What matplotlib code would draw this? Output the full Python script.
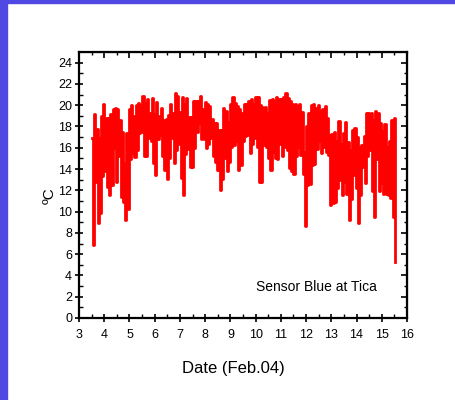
import numpy as np
import matplotlib
matplotlib.use('Agg')
import matplotlib.pyplot as plt
from matplotlib.patches import Rectangle

plt.rcParams['font.family'] = ['Liberation Sans', 'DejaVu Sans']

# sensor record, Feb 3.5 - 15.5 2004: upper and lower swing of each reading pair
t_start, t_end = 3.53, 15.54
hi_c = [16.9, 19.2, 17.8, 16.9, 19.0, 20.1, 18.8, 18.8, 19.2, 19.6, 19.7, 19.6,
        18.6, 17.5, 14.6, 17.4, 19.6, 20.0, 19.0, 20.0, 20.2, 20.0, 20.9, 20.2,
        20.6, 19.3, 20.7, 19.2, 20.3, 19.0, 19.7, 18.6, 18.7, 19.1, 20.1, 19.3,
        21.1, 20.9, 19.4, 20.8, 20.1, 20.7, 18.9, 18.9, 20.4, 20.4, 20.4, 20.9,
        19.6, 20.3, 20.1, 19.9, 18.7, 18.3, 18.3, 17.7, 17.7, 19.7, 19.5, 18.4,
        20.1, 20.8, 20.2, 19.9, 19.6, 19.3, 20.1, 20.1,
        20.4, 20.6, 20.1, 20.8, 20.8, 20.0, 19.8, 19.8, 19.3, 20.5, 20.6, 20.4,
        20.8, 20.6, 20.6, 20.8, 21.1, 20.7, 20.4, 20.1, 20.1, 19.9, 20.1, 19.4,
        15.6, 18.0, 19.3, 20.0, 20.1, 19.7, 20.0, 19.5, 19.6, 19.9, 18.8, 17.2,
        17.3, 17.5, 16.6, 18.5, 16.4, 17.4, 18.4, 16.5, 15.8, 17.7, 17.9, 17.0,
        16.1, 16.3, 17.1, 19.3, 19.3, 19.3, 18.6, 19.5, 19.3, 18.3, 17.6, 18.2,
        16.1, 16.6, 18.6, 18.8]
lo_c = [6.9, 12.8, 8.9, 9.9, 13.3, 13.8, 12.3, 11.6, 12.5, 16.0, 12.8, 15.2,
        11.4, 10.9, 9.2, 10.2, 14.9, 15.5, 15.1, 15.8, 17.4, 17.5, 15.2, 15.2,
        16.9, 16.6, 14.6, 13.4, 16.8, 17.2, 15.2, 13.9, 13.1, 15.0, 16.9, 14.6,
        15.8, 16.4, 13.2, 11.6, 15.4, 15.9, 14.2, 14.2, 16.0, 17.5, 18.3, 16.8,
        16.8, 16.0, 16.4, 16.9, 15.2, 14.7, 13.9, 12.0, 13.1, 15.0, 13.8, 14.7,
        16.1, 16.3, 16.6, 13.9, 14.4, 16.6, 17.1, 17.2,
        15.5, 16.4, 16.9, 16.1, 12.8, 12.8, 16.3, 16.1, 15.0, 13.9, 15.6, 15.0,
        14.9, 16.4, 15.2, 16.1, 15.8, 14.1, 13.8, 13.5, 15.2, 16.1, 15.3, 13.5,
        8.6, 12.5, 12.6, 14.4, 14.5, 15.9, 16.6, 15.5, 16.1, 15.6, 15.3, 10.6,
        10.8, 10.9, 12.2, 13.0, 11.6, 12.8, 11.7, 9.2, 11.2, 13.4, 12.2, 8.9,
        11.6, 14.2, 12.7, 15.2, 15.8, 11.9, 9.5, 14.9, 11.9, 12.7, 11.7, 11.7,
        11.6, 11.3, 9.5, 5.3]

temp = np.column_stack([hi_c, lo_c]).ravel()
days = np.linspace(t_start, t_end, len(temp))

fig = plt.figure(figsize=(4.55, 4.0), dpi=100)
fig.patches.append(Rectangle((0, 0), 7 / 455, 1, transform=fig.transFigure,
                             color='#4f48e2', zorder=0))
fig.patches.append(Rectangle((0, 1 - 3 / 400), 1, 3 / 400, transform=fig.transFigure,
                             color='#4f48e2', zorder=0))

ax = fig.add_axes([79 / 455, 82 / 400, 328 / 455, 266 / 400])
ax.plot(days, temp, color='#ff0000', lw=2.0, drawstyle='steps-mid')

ax.set_xlim(3, 16)
ax.set_ylim(0, 25)
ax.set_xticks(np.arange(3, 17, 1))
ax.set_xticks(np.arange(3, 16.01, 0.5), minor=True)
ax.set_yticks(np.arange(0, 25, 2))
ax.set_yticks(np.arange(0, 25, 1), minor=True)
ax.tick_params(which='major', direction='inout', length=6, width=1.2, labelsize=9, pad=2)
ax.tick_params(axis='x', which='major', pad=5)
ax.tick_params(which='minor', direction='in', length=3, width=1.0)
for s in ax.spines.values():
    s.set_linewidth(1.6)

top = ax.secondary_xaxis('top')
top.set_xticks(np.arange(3, 17, 1))
top.set_xticks(np.arange(3, 16.01, 0.5), minor=True)
top.tick_params(which='major', direction='in', length=4, width=1.2, labeltop=False)
top.tick_params(which='minor', direction='in', length=2, width=1.0)
right = ax.secondary_yaxis('right')
right.set_yticks(np.arange(0, 25, 2))
right.set_yticks(np.arange(0, 25, 1), minor=True)
right.tick_params(which='major', direction='in', length=4, width=1.2, labelright=False)
right.tick_params(which='minor', direction='in', length=2, width=1.0)

ax.set_xlabel('Date (Feb.04)', fontsize=12)
ax.xaxis.label.set_va('center')
ax.xaxis.set_label_coords((233 - 79) / 328, -0.188)
ax.set_ylabel('\u00baC', fontsize=11)
ax.yaxis.label.set_va('center')
ax.yaxis.set_label_coords(-0.088, 0.46)

ax.text(0.7226, 0.1165, 'Sensor Blue at Tica', transform=ax.transAxes,
        ha='center', va='center', fontsize=10)

fig.savefig('out.png', dpi=100)
